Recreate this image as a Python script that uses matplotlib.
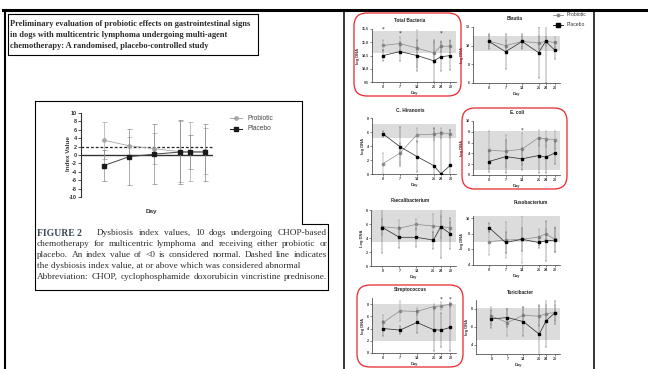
import matplotlib
matplotlib.use('Agg')
import matplotlib.pyplot as plt
from matplotlib.patches import FancyBboxPatch
from matplotlib.lines import Line2D

# ---------------- data ----------------
days = [0, 7, 14, 21, 24, 28]

# Dysbiosis index (left figure)
di_probiotic = [3.5, 2.2, 1.5, 0.8, 0.8, 0.9]
di_probiotic_err = [4.4, 2.2, 3.7, 7.3, 7.0, 5.5]
di_placebo = [-2.5, -0.4, 0.2, 0.7, 0.7, 0.7]
di_placebo_err = [3.7, 6.7, 7.2, 7.7, 4.1, 6.8]
di_yticks = [10, 8, 6, 4, 2, 0, -2, -4, -6, -8, -10]

# Total Bacteria
tb_pro = [10.88, 10.95, 10.78, 10.6, 10.85, 10.85]
tb_pro_err = [0.2, 0.25, 0.7, 0.4, 0.2, 0.25]
tb_pla = [10.5, 10.65, 10.5, 10.3, 10.45, 10.5]
tb_pla_err = [0.2, 0.35, 0.6, 0.8, 0.55, 0.55]
tb_stars = [(0, 11.5), (7, 11.33), (24, 11.33)]

# Blautia
bl_pro = [10.5, 10.0, 10.45, 10.3, 10.45, 10.35]
bl_pro_err = [0.6, 0.6, 0.6, 0.7, 0.5, 0.6]
bl_pla = [10.45, 9.35, 10.45, 9.25, 10.45, 9.5]
bl_pla_err = [0.8, 1.9, 0.8, 2.7, 4.4, 0.9]

# C. Hiranonis
ch_pro = [1.5, 3.0, 5.6, 5.7, 5.9, 5.7]
ch_pro_err = [1.5, 1.5, 1.0, 0.9, 0.7, 0.6]
ch_pla = [5.7, 3.9, 2.5, 1.2, 0.05, 1.25]
ch_pla_err = [0.4, 2.8, 2.2, 5.4, 6.0, 5.0]

# E. coli
ec_pro = [4.6, 4.4, 4.8, 6.9, 6.7, 6.5]
ec_pro_err = [3.5, 3.0, 3.0, 1.5, 1.5, 1.7]
ec_pla = [2.5, 3.4, 3.0, 3.6, 3.3, 4.1]
ec_pla_err = [2.0, 3.0, 2.0, 3.3, 3.0, 2.0]
ec_stars = [(14, 8.4)]

# Faecalibacterium
fa_pro = [5.6, 5.4, 5.95, 5.7, 5.6, 5.5]
fa_pro_err = [1.1, 1.2, 0.8, 1.8, 1.6, 0.8]
fa_pla = [5.5, 4.1, 4.1, 3.7, 5.6, 4.6]
fa_pla_err = [3.7, 1.5, 1.4, 1.2, 4.4, 2.2]

# Fusobacterium
fu_pro = [7.0, 7.2, 7.3, 7.6, 8.0, 7.3]
fu_pro_err = [1.7, 2.3, 3.0, 1.0, 0.6, 1.6]
fu_pla = [8.8, 6.9, 7.3, 6.9, 7.1, 7.2]
fu_pla_err = [0.6, 1.3, 1.5, 0.7, 2.6, 1.5]

# Streptococcus
st_pro = [5.0, 6.9, 6.8, 7.6, 7.7, 8.0]
st_pro_err = [1.3, 1.6, 0.6, 0.5, 0.6, 0.4]
st_pla = [4.0, 3.75, 5.0, 3.8, 3.75, 4.2]
st_pla_err = [1.2, 0.6, 1.8, 3.5, 2.8, 3.8]
st_stars = [(24, 8.9), (28, 8.75)]

# Turicibacter
tu_pro = [7.2, 6.5, 7.3, 7.2, 7.5, 7.6]
tu_pro_err = [1.0, 1.5, 0.9, 1.1, 1.0, 0.9]
tu_pla = [6.9, 7.05, 6.6, 5.2, 6.7, 7.6]
tu_pla_err = [1.0, 1.0, 1.6, 3.3, 2.9, 1.3]

# texts
title_lines = ["Preliminary evaluation of probiotic effects on gastrointestinal signs",
               "in dogs with multicentric lymphoma undergoing multi-agent",
               "chemotherapy: A randomised, placebo-controlled study"]
caption_lines = ["Dysbiosis index values, 10 dogs undergoing CHOP-based",
                 "chemotherapy for multicentric lymphoma and receiving either probiotic or",
                 "placebo. An index value of <0 is considered normal. Dashed line indicates",
                 "the dysbiosis index value, at or above which was considered abnormal",
                 "Abbreviation: CHOP, cyclophosphamide doxorubicin vincristine prednisone."]

# ---------------- layout helpers ----------------
W, H = 648, 369
fig = plt.figure(figsize=(W / 100, H / 100), dpi=100)
fig.patch.set_facecolor('white')
R = fig.canvas.get_renderer()
SANS = ['Liberation Sans', 'DejaVu Sans']
SERIF = ['Liberation Serif', 'DejaVu Serif']


def px_axes(x0, y0, x1, y1):
    return fig.add_axes([x0 / W, 1 - y1 / H, (x1 - x0) / W, (y1 - y0) / H])


def line_px(xs, ys, **kw):
    fig.add_artist(Line2D([x / W for x in xs], [1 - y / H for y in ys],
                          transform=fig.transFigure, **kw))


def text_px(x, y, s, **kw):
    return fig.text(x / W, 1 - y / H, s, **kw)


def fit_text(x, y, s, width, **kw):
    t = text_px(x, y, s, **kw)
    w = t.get_window_extent(R).width
    t.set_fontsize(t.get_fontsize() * width / w)
    return t


def justify(x0, x1, y, s, size, **kw):
    words = s.split()
    ts = [text_px(0, y, w_, fontsize=size, ha='left', va='center', **kw) for w_ in words]
    ws = [t.get_window_extent(R).width for t in ts]
    gap = (x1 - x0 - sum(ws)) / (len(words) - 1)
    x = x0
    for t, w_ in zip(ts, ws):
        t.set_x(x / W)
        x += w_ + gap


def rbox(x0, y0, x1, y1, rad=13, **kw):
    p = FancyBboxPatch((x0 / 100, (H - y1) / 100), (x1 - x0) / 100, (y1 - y0) / 100,
                       boxstyle="round,pad=0,rounding_size=%f" % (rad / 100),
                       transform=fig.dpi_scale_trans, fill=False, **kw)
    fig.add_artist(p)


# ---------------- page frame ----------------
line_px([3, 648], [9.5, 9.5], color='black', lw=2.2)
line_px([5, 5], [9.5, 369], color='black', lw=1.5)
line_px([344, 344], [9.5, 369], color='black', lw=1.1)
line_px([594, 594], [9.5, 369], color='black', lw=1.1)

# title box
line_px([8, 258, 258, 8, 8], [14, 14, 55, 55, 14], color='black', lw=0.8)
tys = [24, 35, 45.5]
fs_title = None
for i, (s, y) in enumerate(zip(title_lines, tys)):
    if i == 0:
        t = fit_text(10, y, s, 243, fontsize=6, family=SERIF, weight='bold',
                     color='#2a2a2a', va='center')
        fs_title = t.get_fontsize()
    else:
        text_px(10, y, s, fontsize=fs_title, family=SERIF, weight='bold',
                color='#2a2a2a', va='center')

# figure box outline
line_px([35, 302, 302, 328, 328, 35, 35], [101, 101, 224, 224, 290, 290, 101],
        color='black', lw=0.8)

# caption
CAPC = '#2e2e2e'
probe = text_px(0, 0, caption_lines[1], fontsize=6, family=SERIF)
fs_cap = 6 * 283 / probe.get_window_extent(R).width
probe.remove()
fit_text(37, 233, 'FIGURE 2', 45, fontsize=6, family=SERIF, weight='bold',
         color='#3a4a5a', va='center')
justify(97, 327, 233, caption_lines[0], fs_cap, family=SERIF, color=CAPC)
justify(37, 327, 244, caption_lines[1], fs_cap, family=SERIF, color=CAPC)
justify(37, 327, 255, caption_lines[2], fs_cap, family=SERIF, color=CAPC)
text_px(37, 266, caption_lines[3], fontsize=fs_cap, family=SERIF, color=CAPC, va='center')
justify(37, 327, 277, caption_lines[4], fs_cap, family=SERIF, color=CAPC)

# ---------------- dysbiosis chart ----------------
PRO_C = '#a6a6a6'
PLA_C = '#1a1a1a'
ax = px_axes(81, 113, 213, 197)
ax.set_xlim(-6.4, 30.3)
ax.set_ylim(-10, 10)
for sp in ['top', 'right', 'bottom']:
    ax.spines[sp].set_visible(False)
ax.spines['left'].set_linewidth(0.8)
ax.spines['left'].set_color('#333333')
ax.axhline(0, color='#333333', lw=1.0, zorder=1)
ax.axhline(2, color='#222222', lw=0.9, ls=(0, (2.2, 1.6)), zorder=1)
ax.errorbar(days, di_probiotic, yerr=di_probiotic_err, color=PRO_C, marker='o', ms=2.4,
            lw=0.6, elinewidth=0.5, capsize=1.8, capthick=0.5, zorder=3)
ax.errorbar(days, di_placebo, yerr=di_placebo_err, color='#444444', mfc=PLA_C, mec=PLA_C,
            marker='s', ms=3.0, lw=0.7, elinewidth=0.5, capsize=1.8, capthick=0.5,
            ecolor='#888888', zorder=4)
ax.set_yticks(di_yticks)
ax.set_yticklabels([str(v) for v in di_yticks], fontsize=4, family=SANS, weight='bold',
                   color='#333333')
ax.set_xticks([])
ax.tick_params(axis='y', length=2, width=0.6, pad=0.8, color='#333333')
ax.patch.set_alpha(0)
text_px(68, 154, 'Index Value', rotation=90, fontsize=4.6, family=SANS, weight='bold',
        color='#333333', ha='center', va='center')
text_px(151, 211, 'Day', fontsize=4.6, family=SANS, weight='bold', color='#333333',
        ha='center', va='center')
# legend
for yy, col, mk, ms, lab in [(118, PRO_C, 'o', 2.4, 'Probiotic'), (129, PLA_C, 's', 3.0, 'Placebo')]:
    line_px([230, 242], [yy, yy], color=col, lw=0.7)
    fig.add_artist(Line2D([236 / W], [1 - yy / H], transform=fig.transFigure, marker=mk,
                          ms=ms, color=col, lw=0))
    text_px(247, yy, lab, fontsize=4.8, family=SANS, color='#444444', va='center')


# ---------------- small panels ----------------
def panel(box, xlim, title, tpos, ylim, yticks, ylabels, band, pro, pro_err, pla, pla_err,
          stars=None, ylab='log DNA'):
    a = px_axes(*box)
    a.set_xlim(*xlim)
    a.set_ylim(*ylim)
    a.axhspan(band[0], band[1], color='#dcdcdc', lw=0, zorder=0)
    a.errorbar(days, pro, yerr=pro_err, color='#8a8a8a', marker='o', ms=1.6, lw=0.5,
               elinewidth=0.35, capsize=1.0, capthick=0.35, zorder=3, clip_on=True)
    a.errorbar(days, pla, yerr=pla_err, color='#333333', mfc='black', mec='black',
               ecolor='#555555', marker='s', ms=2.0, lw=0.55, elinewidth=0.35,
               capsize=1.0, capthick=0.35, zorder=4, clip_on=True)
    for sp in ['top', 'right']:
        a.spines[sp].set_visible(False)
    for sp in ['left', 'bottom']:
        a.spines[sp].set_linewidth(0.5)
        a.spines[sp].set_color('#333333')
    a.set_xticks(days)
    a.set_xticklabels([str(d) for d in days], fontsize=2.6, family=SANS, weight='bold',
                      color='#333333')
    a.set_yticks(yticks)
    a.set_yticklabels(ylabels, fontsize=2.6, family=SANS, weight='bold', color='#333333')
    a.tick_params(length=1.4, width=0.4, pad=0.8, color='#333333')
    a.set_xlabel('Day', fontsize=3.0, family=SANS, weight='bold', color='#333333',
                 labelpad=1.2)
    a.set_ylabel(ylab, fontsize=3.0, family=SANS, weight='bold', color='#333333',
                 labelpad=1.0)
    text_px(tpos[0], tpos[1], title, fontsize=3.4, family=SANS, weight='bold',
            color='#222222', ha='center', va='center')
    if stars:
        for d, v in stars:
            a.text(d, v, '*', fontsize=4, ha='center', va='center', color='#222222')
    return a


X1 = (-4.7, 30.3)
X2 = (-6.8, 30.1)
panel((372, 29, 456, 82), X1, 'Total Bacteria', (410, 20), (9.5, 11.5),
      [9.5, 10.0, 10.5, 11.0, 11.5], ['9.5', '10.0', '10.5', '11.0', '11.5'],
      (10.58, 11.43), tb_pro, tb_pro_err, tb_pla, tb_pla_err, stars=tb_stars)
panel((473, 27, 560, 83), X2, 'Blautia', (515, 19), (6, 12), [6, 8, 10, 12],
      ['6', '8', '10', '12'], (9.4, 11.0), bl_pro, bl_pro_err, bl_pla, bl_pla_err)
panel((372, 118, 456, 174), X1, 'C. Hiranonis', (410, 110), (0, 8), [0, 2, 4, 6, 8],
      ['0', '2', '4', '6', '8'], (5.1, 7.1), ch_pro, ch_pro_err, ch_pla, ch_pla_err)
panel((473, 121, 560, 175), X2, 'E. coli', (517, 112), (0, 10), [0, 2, 4, 6, 8, 10],
      ['0', '2', '4', '6', '8', '10'], (1.0, 8.2), ec_pro, ec_pro_err, ec_pla, ec_pla_err,
      stars=ec_stars)
panel((371, 210, 456, 266), X1, 'Faecalibacterium', (410, 201), (0, 8), [0, 2, 4, 6, 8],
      ['0', '2', '4', '6', '8'], (3.5, 8.0), fa_pro, fa_pro_err, fa_pla, fa_pla_err,
      ylab='Log DNA')
panel((473, 216, 560, 265), X2, 'Fusobacterium', (531, 202), (4, 10.3), [4, 6, 8, 10],
      ['4', '6', '8', '10'], (7.0, 10.3), fu_pro, fu_pro_err, fu_pla, fu_pla_err)
panel((372, 298, 456, 353), X1, 'Streptococcus', (410, 289), (0, 9), [0, 2, 4, 6, 8],
      ['0', '2', '4', '6', '8'], (2.0, 8.0), st_pro, st_pro_err, st_pla, st_pla_err,
      stars=st_stars)
panel((476, 300, 560, 354), X2, 'Turicibacter', (520, 293), (3, 9), [4, 6, 8],
      ['4', '6', '8'], (4.6, 8.1), tu_pro, tu_pro_err, tu_pla, tu_pla_err)

# right-panel legend
for yy, col, mk, ms, lab in [(15, '#8a8a8a', 'o', 1.8, 'Probiotic'), (25, 'black', 's', 2.4, 'Placebo')]:
    line_px([553, 563], [yy, yy], color=col, lw=0.6)
    fig.add_artist(Line2D([558 / W], [1 - yy / H], transform=fig.transFigure, marker=mk,
                          ms=ms, color=col, lw=0))
    text_px(567, yy, lab, fontsize=3.6, family=SANS, color='#333333', va='center')

# red highlight boxes
rbox(354, 13, 461, 96, rad=13, ec='#e8262a', lw=0.9)
rbox(462, 108, 567, 189, rad=13, ec='#e8262a', lw=0.9)
rbox(357, 285, 463, 367, rad=13, ec='#e8262a', lw=0.9)

fig.savefig('out.png', dpi=100, facecolor='white')
